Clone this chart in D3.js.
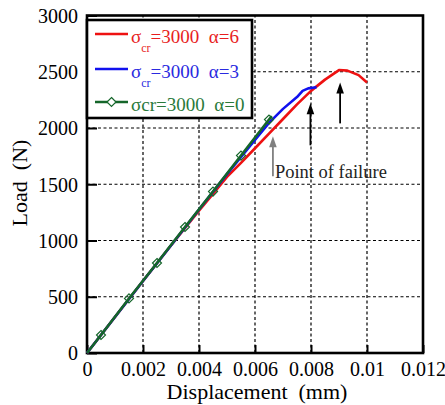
<!DOCTYPE html>
<html><head><meta charset="utf-8">
<script src="https://cdn.jsdelivr.net/npm/d3@7"></script>
<style>html,body{margin:0;padding:0;background:#fff;}svg{display:block;}svg text{font-family:"Liberation Serif","Times New Roman",serif !important;}</style>
</head><body><svg id="c" width="445" height="405" font-family="Liberation Serif, serif"></svg>
<script>
// ---- data ----
const xTicks = [0, 0.002, 0.004, 0.006, 0.008, 0.01, 0.012];
const xTickLabels = ["0", "0.002", "0.004", "0.006", "0.008", "0.01", "0.012"];
const yTicks = [0, 500, 1000, 1500, 2000, 2500, 3000];
const yTickLabels = ["0", "500", "1000", "1500", "2000", "2500", "3000"];

const redDisp = [0, 0.001, 0.002, 0.003, 0.004, 0.0045, 0.005, 0.0055, 0.006, 0.0065, 0.007, 0.0075, 0.008, 0.0085, 0.009, 0.0093, 0.0097, 0.01];
const redLoad = [0, 320, 640, 955, 1265, 1415, 1565, 1690, 1820, 1950, 2080, 2210, 2330, 2430, 2515, 2510, 2470, 2405];

const blueDisp = [0, 0.001, 0.002, 0.003, 0.004, 0.005, 0.006, 0.0065, 0.007, 0.0075, 0.0077, 0.0079, 0.0082];
const blueLoad = [0, 320, 640, 955, 1275, 1590, 1895, 2045, 2170, 2275, 2330, 2352, 2362];

const greenDisp = [0, 0.0005, 0.0015, 0.0025, 0.0035, 0.0045, 0.0055, 0.0065, 0.0066];
const greenLoad = [0, 160, 485, 800, 1120, 1435, 1755, 2075, 2105];
const greenMarkerIdx = [1, 2, 3, 4, 5, 6, 7];

const seriesNames = ["red", "blue", "green"];
const legendMain = ["=3000  \u03b1=6", "=3000  \u03b1=3", "\u03c3cr=3000  \u03b1=0"];

const arrowX = [0.00664, 0.00798, 0.00904];
const arrowTip = [1926, 2219, 2405];
const arrowTail = [1571, 1846, 2041];
const arrowColor = ["#808080", "#000", "#000"];
const annotation = "Point of failure";
const annotX = 0.00671, annotY = 1553;

// ---- drawing ----
const FONT = '"Liberation Serif", "Times New Roman", serif';
const svg = d3.select("#c");
const x = d3.scaleLinear().domain([0, 0.012]).range([87, 423]);
const y = d3.scaleLinear().domain([0, 3000]).range([353, 15.5]);
const colors = {red: "#ee1111", blue: "#1111ee", green: "#15662a"};
const textColors = {red: "#e81e1e", blue: "#2a2ae0", green: "#2a7a3a"};

// grid
const g = svg.append("g");
g.selectAll("line.gx").data(xTicks.slice(1, -1)).join("line")
  .attr("x1", d => x(d)).attr("x2", d => x(d)).attr("y1", y(0)).attr("y2", y(3000))
  .attr("stroke", "#000").attr("stroke-width", 1.2).attr("stroke-dasharray", "3,2.5");
g.selectAll("line.gy").data(yTicks.slice(1, -1)).join("line")
  .attr("y1", d => y(d)).attr("y2", d => y(d)).attr("x1", x(0)).attr("x2", x(0.012))
  .attr("stroke", "#000").attr("stroke-width", 1.2).attr("stroke-dasharray", "3,2.5");

// axes
const xAxis = d3.axisBottom(x).tickValues(xTicks).tickFormat((d, i) => xTickLabels[i]).tickSizeInner(-8).tickSizeOuter(0).tickPadding(8.5);
const yAxis = d3.axisLeft(y).tickValues(yTicks).tickFormat((d, i) => yTickLabels[i]).tickSizeInner(-10).tickSizeOuter(0).tickPadding(9);
const gx = svg.append("g").attr("transform", `translate(0,${y(0)})`).call(xAxis);
const gy = svg.append("g").attr("transform", `translate(${x(0)},0)`).call(yAxis);
[gx, gy].forEach(a => {
  a.attr("font-family", FONT).attr("font-size", 20);
  a.select(".domain").remove();
  a.selectAll(".tick line").attr("stroke", "#000").attr("stroke-width", 2);
  a.selectAll("text").attr("font-size", 20).attr("fill", "#000").attr("font-family", FONT);
});
gy.selectAll(".tick text").attr("dy", "0.34em");

// frame
svg.append("rect").attr("x", x(0)).attr("y", y(3000)).attr("width", x(0.012) - x(0)).attr("height", y(0) - y(3000))
  .attr("fill", "none").attr("stroke", "#000").attr("stroke-width", 2.6);

// curves
const line = d3.line().x(d => x(d[0])).y(d => y(d[1]));
const zip = (a, b) => a.map((v, i) => [v, b[i]]);
const data = {red: zip(redDisp, redLoad), blue: zip(blueDisp, blueLoad), green: zip(greenDisp, greenLoad)};
seriesNames.forEach(s => {
  svg.append("path").datum(data[s]).attr("d", line).attr("fill", "none")
    .attr("stroke", colors[s]).attr("stroke-width", 2.6).attr("stroke-linejoin", "round");
});
const diamond = (cx, cy, r) => `M${cx},${cy - r}L${cx + r},${cy}L${cx},${cy + r}L${cx - r},${cy}Z`;
svg.selectAll("path.mk").data(greenMarkerIdx.map(i => data.green[i])).join("path")
  .attr("d", d => diamond(x(d[0]), y(d[1]), 4.5))
  .attr("fill", "none").attr("stroke", colors.green).attr("stroke-width", 1.2);

// arrows
arrowX.forEach((ax, i) => {
  const px = x(ax), tipY = y(arrowTip[i]), tailY = y(arrowTail[i]);
  svg.append("line").attr("x1", px).attr("x2", px).attr("y1", tipY + 8).attr("y2", tailY)
    .attr("stroke", arrowColor[i]).attr("stroke-width", 1.8);
  svg.append("path").attr("d", `M${px},${tipY}L${px + 3.8},${tipY + 11}L${px - 3.8},${tipY + 11}Z`)
    .attr("fill", arrowColor[i]);
});
svg.append("text").attr("x", x(annotX)).attr("y", y(annotY)).attr("font-size", 18.5).attr("font-family", FONT)
  .attr("fill", "#222").text(annotation);

// legend
const lg = svg.append("g");
lg.append("rect").attr("x", 87).attr("y", 20).attr("width", 165).attr("height", 98)
  .attr("fill", "#fff").attr("stroke", "#000").attr("stroke-width", 2.6);
const rowY = [34, 69, 102];
seriesNames.forEach((s, i) => {
  lg.append("line").attr("x1", 95).attr("x2", 128).attr("y1", rowY[i]).attr("y2", rowY[i])
    .attr("stroke", colors[s]).attr("stroke-width", 2.6);
  const t = lg.append("text").attr("x", 131).attr("y", rowY[i] + 9).attr("font-size", 19).attr("font-family", FONT)
    .attr("fill", textColors[s]).style("white-space", "pre");
  if (i < 2) {
    t.append("tspan").text("\u03c3");
    t.append("tspan").attr("font-size", 12).attr("dy", 9).text("cr");
    t.append("tspan").attr("dy", -9).text(legendMain[i]);
  } else {
    t.text(legendMain[i]);
  }
});
lg.append("path").attr("d", diamond(111.5, rowY[2], 4.5)).attr("fill", "#fff").attr("stroke", colors.green).attr("stroke-width", 1.2);

// axis titles
svg.append("text").attr("x", 257).attr("y", 399).attr("text-anchor", "middle").attr("font-size", 22).attr("font-family", FONT)
  .style("white-space", "pre").text("Displacement  (mm)");
svg.append("text").attr("transform", "translate(27,183) rotate(-90)").attr("text-anchor", "middle").attr("font-size", 22)
  .attr("font-family", FONT).style("white-space", "pre").text("Load  (N)");
</script></body></html>
